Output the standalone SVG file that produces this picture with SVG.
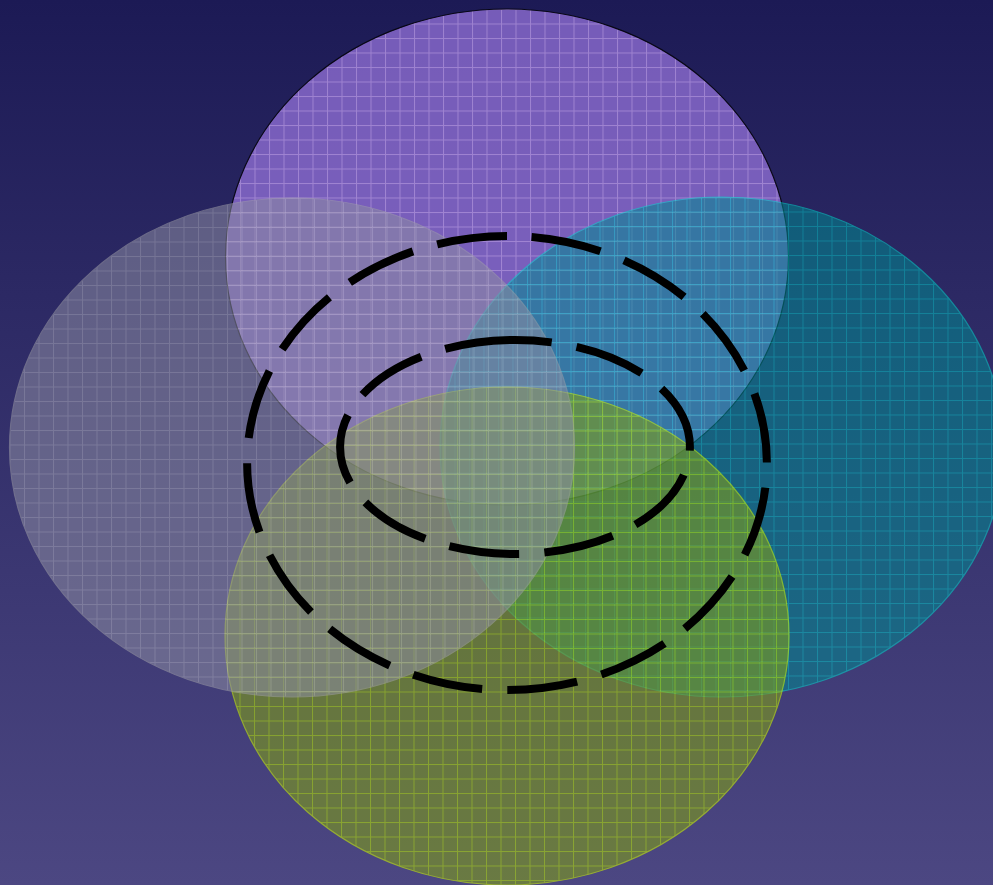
<svg xmlns="http://www.w3.org/2000/svg" width="993" height="885" viewBox="0 0 993 885">
<defs>
<linearGradient id="bg" x1="0" y1="0" x2="0" y2="1">
<stop offset="0" stop-color="#1c1a55"/>
<stop offset="1" stop-color="#4c4782"/>
</linearGradient>
<pattern id="pPurple" patternUnits="userSpaceOnUse" x="225.5" y="9" width="14.5" height="14.5">
<rect width="14.5" height="14.5" fill="#9472da"/>
<rect width="1" height="14.5" fill="#c8a4f8"/>
<rect width="14.5" height="1" fill="#c8a4f8"/>
</pattern>
<pattern id="pTeal" patternUnits="userSpaceOnUse" x="440" y="197" width="14.5" height="14.5">
<rect width="14.5" height="14.5" fill="#008a90"/>
<rect width="1" height="14.5" fill="#00c8c4"/>
<rect width="14.5" height="1" fill="#00c8c4"/>
</pattern>
<pattern id="pGreen" patternUnits="userSpaceOnUse" x="225" y="387" width="14.5" height="14.5">
<rect width="14.5" height="14.5" fill="#7e9c1a"/>
<rect width="1" height="14.5" fill="#b4e400"/>
<rect width="14.5" height="1" fill="#b4e400"/>
</pattern>
<pattern id="pGray" patternUnits="userSpaceOnUse" x="9.5" y="198" width="14.5" height="14.5">
<rect width="14.5" height="14.5" fill="#8c8ca2"/>
<rect width="1" height="14.5" fill="#b4b4c0"/>
<rect width="14.5" height="1" fill="#b4b4c0"/>
</pattern>
</defs>
<style>
.dash{fill:none;stroke:#000;stroke-width:8;stroke-dasharray:70.5 25.2;stroke-linecap:butt}
</style>
<rect width="993" height="885" fill="url(#bg)"/>
<g id="purple" opacity="0.75">
<ellipse cx="507" cy="257" rx="281.5" ry="248" fill="url(#pPurple)" stroke="#000" stroke-width="1.2"/>
</g>
<g id="teal" opacity="0.55">
<ellipse cx="722" cy="447" rx="282" ry="250" fill="url(#pTeal)" stroke="#00d8cc" stroke-width="1.2"/>
</g>
<g id="green" opacity="0.6">
<ellipse cx="507" cy="636" rx="282" ry="249" fill="url(#pGreen)" stroke="#c8f000" stroke-width="1.2"/>
</g>
<g id="gray" opacity="0.55">
<ellipse cx="292" cy="447.5" rx="282.5" ry="249.5" fill="url(#pGray)" stroke="#a0a0a8" stroke-width="1.2"/>
</g>
<g id="connectors">
<path id="outer" class="dash" d="M507,236 A260,227 0 0 0 507,690 A260,227 0 0 0 507,236"/>
<path id="inner" class="dash" d="M515,340 A175,107 0 0 0 515,554 A175,107 0 0 0 515,340"/>
</g>
</svg>
